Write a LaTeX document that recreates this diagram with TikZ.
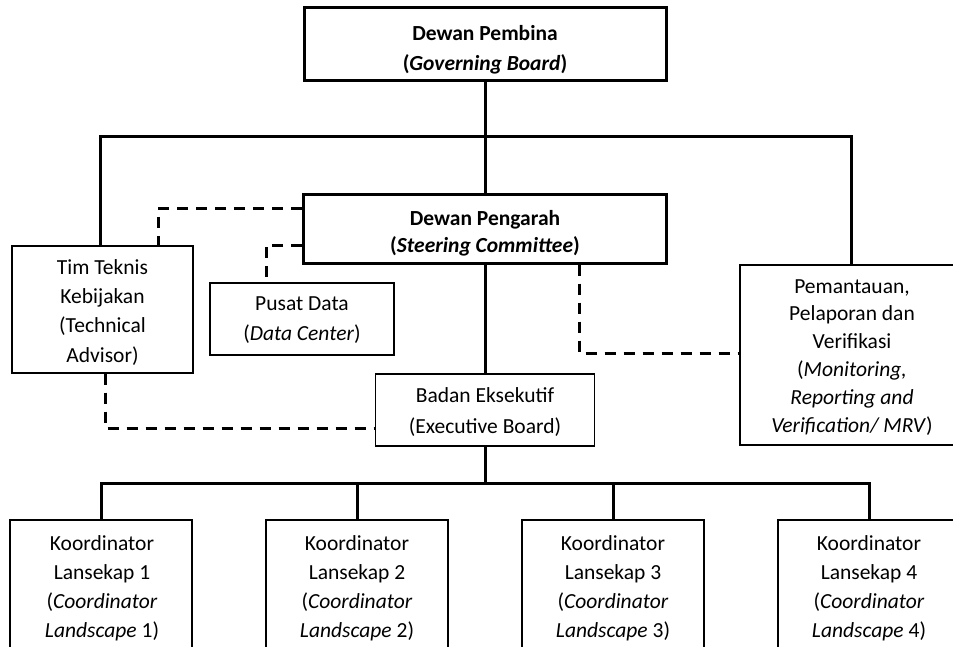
\documentclass[tikz,border=0pt]{standalone}
\usepackage{fontspec}
\setmainfont{Carlito}
\begin{document}
\begin{tikzpicture}[x=1pt,y=-1pt,
  thickbox/.style={draw,line width=3pt,rectangle,inner sep=0pt},
  thinbox/.style={draw,line width=1.3pt,rectangle,inner sep=0pt},
  conn/.style={line width=3pt},
  dashline/.style={line width=3pt,dash pattern=on 11pt off 8pt},
  txt/.style={align=center,inner sep=0pt,anchor=north,font=\fontsize{21.5}{#1}\selectfont}]
\useasboundingbox (0,0) rectangle (953,647);
\clip (0,0) rectangle (953,647);
\fill[white] (0,0) rectangle (953,647);

% texts
\node[txt=30] (govtxt) at (485,19) {\strut\textbf{Dewan Pembina}\\\textbf{(\textit{Governing Board})}};
\node[txt=27] (sctxt) at (485,206.8) {\strut\textbf{Dewan Pengarah}\\\textbf{(\textit{Steering Committee})}};
\node[txt=29.3] (timtxt) at (102.5,253.5) {\strut Tim Teknis\\Kebijakan\\(Technical\\Advisor)};
\node[txt=29.5] (pusattxt) at (302,289.8) {\strut Pusat Data\\(\textit{Data Center})};
\node[txt=30.5] (exectxt) at (485,381) {\strut Badan Eksekutif\\(Executive Board)};
\node[txt=27.8] (mrvtxt) at (852,273.5) {\strut Pemantauan,\\Pelaporan dan\\Verifikasi\\(\textit{Monitoring,}\\\textit{Reporting and}\\\textit{Verification/ MRV})};
\node[txt=29] (k1txt) at (102,529.7) {\strut Koordinator\\Lansekap 1\\(\textit{Coordinator}\\\textit{Landscape} 1)};
\node[txt=29] (k2txt) at (357,529.7) {\strut Koordinator\\Lansekap 2\\(\textit{Coordinator}\\\textit{Landscape} 2)};
\node[txt=29] (k3txt) at (613,529.7) {\strut Koordinator\\Lansekap 3\\(\textit{Coordinator}\\\textit{Landscape} 3)};
\node[txt=29] (k4txt) at (869,529.7) {\strut Koordinator\\Lansekap 4\\(\textit{Coordinator}\\\textit{Landscape} 4)};

% boxes
\node[thickbox,minimum width=362pt,minimum height=73pt] (gov) at (485,44.5) {};
\node[thickbox,minimum width=363pt,minimum height=68pt] (sc) at (485,229) {};
\node[thinbox,minimum width=181pt,minimum height=127pt] (tim) at (102.5,309.5) {};
\node[thinbox,minimum width=184pt,minimum height=72pt] (pusat) at (302,319) {};
\node[thinbox,minimum width=219pt,minimum height=72pt] (exec) at (485,410) {};
\node[thinbox,minimum width=222pt,minimum height=180pt] (mrv) at (851,355) {};
\node[thinbox,minimum width=182pt,minimum height=160pt] (k1) at (101,600) {};
\node[thinbox,minimum width=182pt,minimum height=160pt] (k2) at (357,600) {};
\node[thinbox,minimum width=182pt,minimum height=160pt] (k3) at (613,600) {};
\node[thinbox,minimum width=182pt,minimum height=160pt] (k4) at (869,600) {};

% solid connectors
\coordinate (bl) at (100,137);
\coordinate (br) at (851,137);
\draw[conn] (gov.south) -- (sc.north);
\draw[conn] (bl |- tim.north) -- (bl) -- (br) -- (br |- mrv.north);
\draw[conn] (sc.south) -- (exec.north);
\coordinate (c) at (485,483);
\draw[conn] (exec.south) -- (c);
\draw[conn] (k1.north) -- (k1.north |- c) -- (k4.north |- c) -- (k4.north);
\draw[conn] (k2.north) -- (k2.north |- c);
\draw[conn] (k3.north) -- (k3.north |- c);

% dashed connectors
\coordinate (d1) at (158,209);
\coordinate (d2) at (266,245);
\coordinate (d3) at (105,428);
\coordinate (d4) at (579,353);
\draw[dashline] (d1 -| sc.west) -- (d1) -- (d1 |- tim.north);
\draw[dashline] (d2 -| sc.west) -- (d2) -- (d2 |- pusat.north);
\draw[dashline] (d3 |- tim.south) -- (d3) -- (d3 -| exec.west);
\draw[dashline] (d4 |- sc.south) -- (d4) -- (d4 -| mrv.west);
\end{tikzpicture}
\end{document}
